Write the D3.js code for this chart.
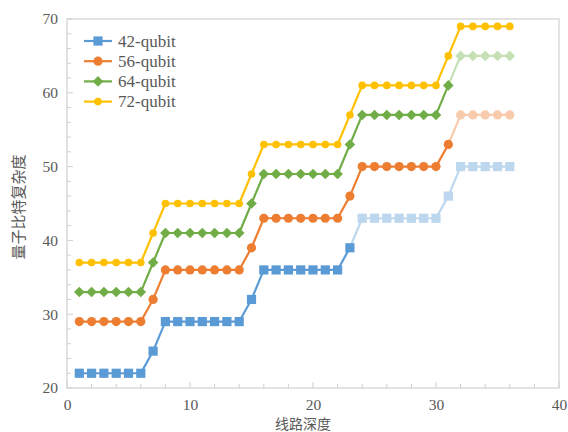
<!DOCTYPE html>
<html><head><meta charset="utf-8">
<script src="https://cdn.jsdelivr.net/npm/d3@7"></script>
<style>body{margin:0;background:#fff}svg{display:block}.tk text{font-family:'Liberation Serif','DejaVu Serif',serif}</style>
</head><body><svg id="c" width="568" height="432"></svg>
<script>
const depth = [1,2,3,4,5,6,7,8,9,10,11,12,13,14,15,16,17,18,19,20,21,22,23,24,25,26,27,28,29,30,31,32,33,34,35,36];
const q42 = [22,22,22,22,22,22,25,29,29,29,29,29,29,29,32,36,36,36,36,36,36,36,39,43,43,43,43,43,43,43,46,50,50,50,50,50];
const q56 = [29,29,29,29,29,29,32,36,36,36,36,36,36,36,39,43,43,43,43,43,43,43,46,50,50,50,50,50,50,50,53,57,57,57,57,57];
const q64 = [33,33,33,33,33,33,37,41,41,41,41,41,41,41,45,49,49,49,49,49,49,49,53,57,57,57,57,57,57,57,61,65,65,65,65,65];
const q72 = [37,37,37,37,37,37,41,45,45,45,45,45,45,45,49,53,53,53,53,53,53,53,57,61,61,61,61,61,61,61,65,69,69,69,69,69];
// index from which points are drawn faded
const fadeFrom = {"42-qubit": 24, "56-qubit": 32, "64-qubit": 32, "72-qubit": 99};
const seriesNames = ["42-qubit","56-qubit","64-qubit","72-qubit"];
const xTicks = [0,10,20,30,40];
const yTicks = [20,30,40,50,60,70];

const series = [
  {name:seriesNames[0], v:q42, color:"#5B9BD5", light:"#BDD7EE", shape:"square"},
  {name:seriesNames[1], v:q56, color:"#ED7D31", light:"#F8CBAD", shape:"circle"},
  {name:seriesNames[2], v:q64, color:"#70AD47", light:"#C5E0B4", shape:"diamond"},
  {name:seriesNames[3], v:q72, color:"#FFC000", light:"#FFE699", shape:"smallcircle"}
];

const svg = d3.select("#c");
const L=67, R=559, T=19, B=388;
const x = d3.scaleLinear().domain([0,40]).range([L,R]);
const y = d3.scaleLinear().domain([20,70]).range([B,T]);
const axisCol = "#d0d0d0", textCol = "#595959";
const serif = "'Liberation Serif','DejaVu Serif',serif";

svg.append("rect").attr("x",L).attr("y",T).attr("width",R-L).attr("height",B-T)
  .attr("fill","none").attr("stroke",axisCol).attr("stroke-width",1.2);

const gx = svg.append("g");
d3.range(0,41,2).forEach(t=>{
  const len = t%10===0?6:4;
  gx.append("line").attr("x1",x(t)).attr("x2",x(t)).attr("y1",B).attr("y2",B-len).attr("stroke",axisCol);
});
d3.range(20,71,2).forEach(t=>{
  const len = t%10===0?6:4;
  gx.append("line").attr("x1",L).attr("x2",L+len).attr("y1",y(t)).attr("y2",y(t)).attr("stroke",axisCol);
});

const xa = svg.append("g").attr("class","tk").attr("transform",`translate(0,${B})`)
  .call(d3.axisBottom(x).tickValues(xTicks).tickSize(0).tickPadding(11).tickFormat(d3.format("d")));
const ya = svg.append("g").attr("class","tk").attr("transform",`translate(${L},0)`)
  .call(d3.axisLeft(y).tickValues(yTicks).tickSize(0).tickPadding(9).tickFormat(d3.format("d")));
[xa,ya].forEach(g=>{
  g.attr("font-family",serif).attr("font-size",15.5);
  g.select(".domain").remove();
  g.selectAll("text").attr("font-family",serif).attr("font-size",15.5).attr("fill",textCol);
});

svg.append("text").attr("x",303).attr("y",429).attr("text-anchor","middle")
  .attr("font-family","'Noto Sans CJK SC',sans-serif").attr("font-size",14).attr("fill",textCol).text("线路深度");
svg.append("text").attr("transform","translate(24,207) rotate(-90)").attr("text-anchor","middle")
  .attr("font-family","'Noto Sans CJK SC',sans-serif").attr("font-size",15).attr("fill",textCol).text("量子比特复杂度");

function marker(g, shape, cx, cy, col){
  if(shape==="square") g.append("rect").attr("x",cx-4.6).attr("y",cy-4.6).attr("width",9.2).attr("height",9.2).attr("fill",col);
  else if(shape==="circle") g.append("circle").attr("cx",cx).attr("cy",cy).attr("r",4.6).attr("fill",col);
  else if(shape==="smallcircle") g.append("circle").attr("cx",cx).attr("cy",cy).attr("r",3.8).attr("fill",col);
  else if(shape==="diamond") g.append("path").attr("d",`M${cx},${cy-5.3}L${cx+5.3},${cy}L${cx},${cy+5.3}L${cx-5.3},${cy}Z`).attr("fill",col);
}

series.forEach(s=>{
  const g = svg.append("g");
  const ff = fadeFrom[s.name];
  const pts = depth.map((d,i)=>({d, v:s.v[i]}));
  for(let i=1;i<pts.length;i++){
    const faded = pts[i].d>=ff;
    g.append("line").attr("x1",x(pts[i-1].d)).attr("y1",y(pts[i-1].v))
      .attr("x2",x(pts[i].d)).attr("y2",y(pts[i].v))
      .attr("stroke",faded?s.light:s.color).attr("stroke-width",2.2).attr("stroke-linecap","round");
  }
  pts.forEach(p=>marker(g,s.shape,x(p.d),y(p.v),p.d>=ff?s.light:s.color));
});

series.forEach((s,i)=>{
  const ly = 41 + i*20.2;
  const g = svg.append("g");
  g.append("line").attr("x1",84).attr("x2",112).attr("y1",ly).attr("y2",ly).attr("stroke",s.color).attr("stroke-width",2.2);
  marker(g,s.shape,98,ly,s.color);
  g.append("text").attr("x",118).attr("y",ly+5.5).attr("font-family",serif).attr("font-size",17)
    .attr("fill",textCol).text(s.name);
});
</script></body></html>
